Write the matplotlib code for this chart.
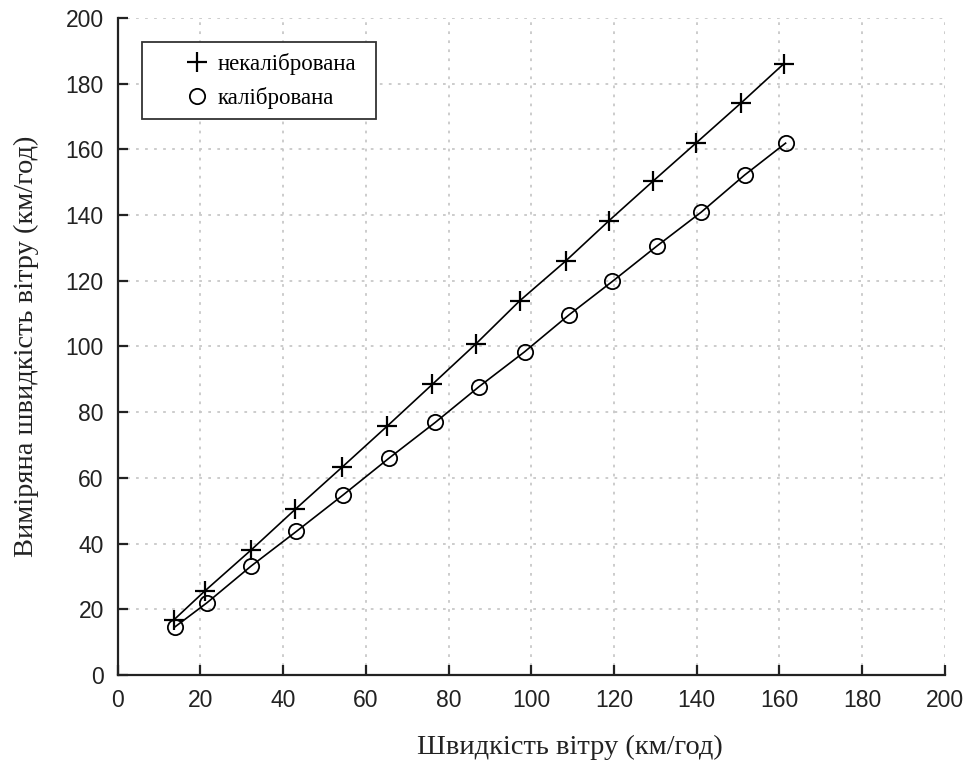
import matplotlib
matplotlib.use('Agg')
import matplotlib.pyplot as plt
from matplotlib.lines import Line2D

# wind speed data (km/h)
UNCAL_X = [13.6, 21.0, 32.3, 42.9, 54.2, 65.2, 76.1, 86.7, 97.2, 108.3, 118.8, 129.5, 139.9, 150.7, 161.0]
UNCAL_Y = [16.8, 25.5, 38.1, 50.4, 63.2, 75.8, 88.5, 100.9, 113.9, 126.0, 138.3, 150.4, 162.0, 174.1, 186.0]
CAL_X = [13.8, 21.6, 32.3, 43.2, 54.5, 65.6, 76.8, 87.4, 98.4, 109.1, 119.6, 130.4, 141.1, 151.6, 161.5]
CAL_Y = [14.6, 22.0, 33.2, 43.7, 54.8, 66.0, 76.9, 87.8, 98.4, 109.6, 119.8, 130.6, 140.9, 152.2, 161.9]

LABEL_UNCAL = 'некалібрована'
LABEL_CAL = 'калібрована'
X_LABEL = 'Швидкість вітру (км/год)'
Y_LABEL = 'Виміряна швидкість вітру (км/год)'
TICKS = list(range(0, 201, 20))

SERIF = ['Liberation Serif', 'DejaVu Serif']
SANS = ['Liberation Sans', 'DejaVu Sans']

def main():
    fig = plt.figure(figsize=(9.73, 7.67), dpi=100)
    ax = fig.add_axes([0.121, 0.120, 0.850, 0.8565])

    ax.plot(UNCAL_X, UNCAL_Y, color='black', linewidth=1.2, marker='+',
            markersize=14, markeredgewidth=1.6)
    ax.plot(CAL_X, CAL_Y, color='black', linewidth=1.2, marker='o',
            markersize=11, markerfacecolor='none', markeredgewidth=1.3)

    ax.set_xlim(0, 200)
    ax.set_ylim(0, 200)
    ax.set_xticks(TICKS)
    ax.set_yticks(TICKS)
    ax.grid(True, linestyle=(0, (1.5, 3.5)), color='#c8c8c8', linewidth=1.3)
    ax.set_axisbelow(True)

    for side in ['top', 'right']:
        ax.spines[side].set_visible(False)
    for side in ['left', 'bottom']:
        ax.spines[side].set_linewidth(1.6)
        ax.spines[side].set_color('#222222')
    ax.tick_params(direction='in', length=7, width=1.6, color='#222222',
                   labelsize=16.5, top=False, right=False)
    ax.tick_params(axis='y', pad=10)
    ax.tick_params(axis='x', pad=10)
    for lbl in ax.get_xticklabels() + ax.get_yticklabels():
        lbl.set_family(SANS)
        lbl.set_color('#222222')

    ax.set_xlabel(X_LABEL, family=SERIF, fontsize=20.5, color='#222222')
    ax.xaxis.set_label_coords(0.547, -0.111)
    ax.xaxis.label.set_va('center')
    ax.set_ylabel(Y_LABEL, family=SERIF, fontsize=20.5, labelpad=19, color='#222222')

    handles = [
        Line2D([], [], color='black', linestyle='none', marker='+', markersize=14, markeredgewidth=1.6),
        Line2D([], [], color='black', linestyle='none', marker='o', markersize=11,
               markerfacecolor='none', markeredgewidth=1.3),
    ]
    leg = ax.legend(handles, [LABEL_UNCAL, LABEL_CAL], loc='upper left',
                    bbox_to_anchor=(0.029, 0.5, 0.283, 0.463), mode='expand',
                    borderaxespad=0,
                    prop={'family': SERIF, 'size': 16.5}, fancybox=False,
                    edgecolor='#333333', framealpha=1, handlelength=3.9,
                    handletextpad=-1.05, borderpad=0.45, labelspacing=0.52)
    leg.get_frame().set_linewidth(1.3)

    fig.savefig('out.png', dpi=100)

main()
